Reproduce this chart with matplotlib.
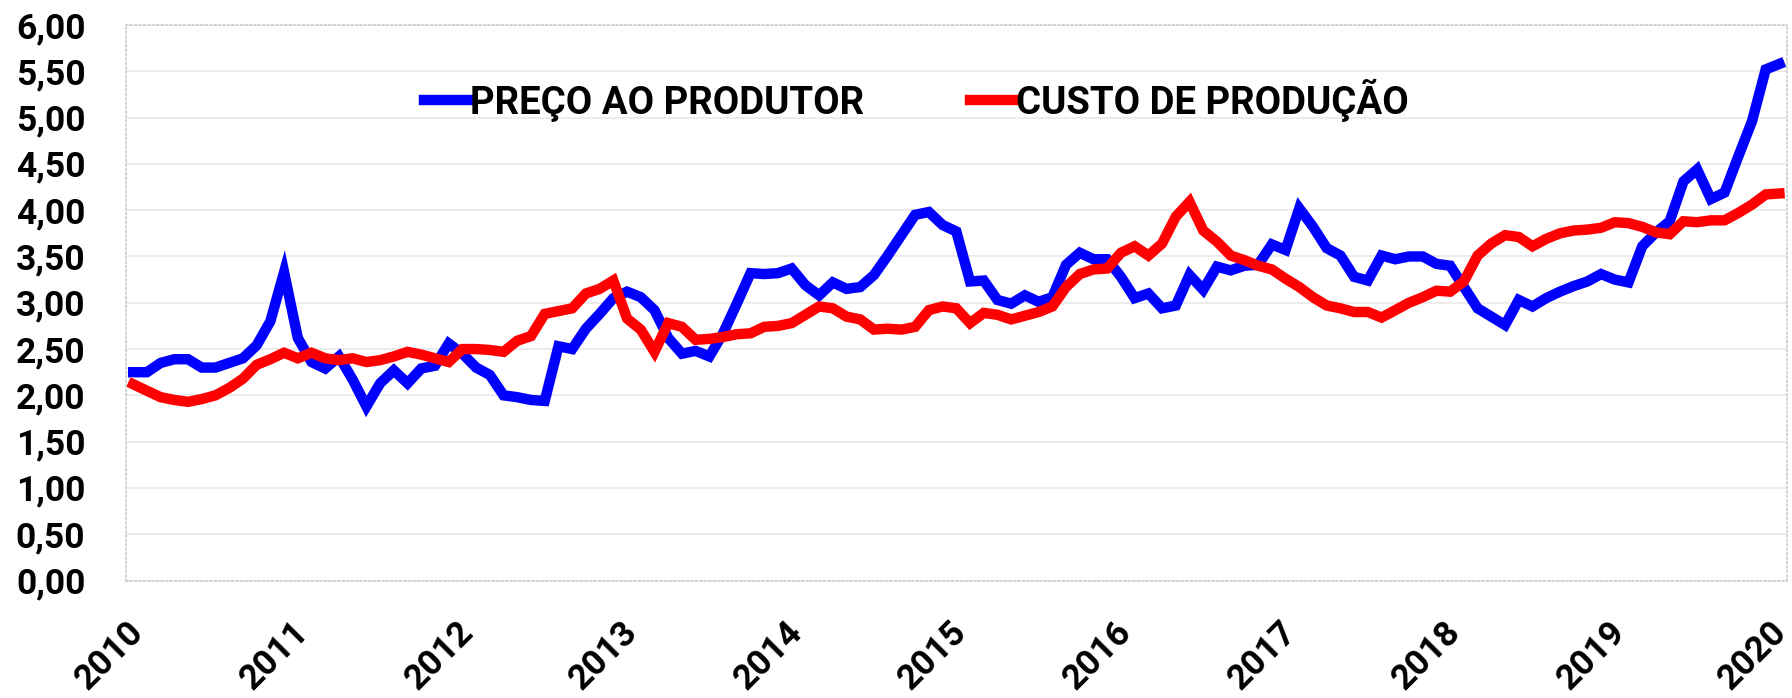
import numpy as np
import matplotlib
matplotlib.use("Agg")
import matplotlib.pyplot as plt
import matplotlib.transforms as mtransforms

plt.rcParams['font.family'] = ['Roboto', 'DejaVu Sans']

# monthly values, jan/2010 .. jan/2020
preco_produtor = [
    2.25, 2.25, 2.35, 2.39, 2.39, 2.30, 2.30, 2.35, 2.40, 2.54, 2.80, 3.33,
    2.62, 2.36, 2.29, 2.42, 2.17, 1.88, 2.13, 2.27, 2.13, 2.29, 2.32, 2.56,
    2.45, 2.30, 2.22, 2.00, 1.98, 1.95, 1.94, 2.53, 2.50, 2.72, 2.88, 3.05,
    3.12, 3.06, 2.92, 2.62, 2.45, 2.48, 2.42, 2.67, 2.99, 3.32, 3.31, 3.32,
    3.37, 3.19, 3.08, 3.22, 3.15, 3.17, 3.30, 3.51, 3.73, 3.95, 3.98, 3.84,
    3.77, 3.23, 3.24, 3.03, 2.99, 3.08, 3.01, 3.06, 3.41, 3.54, 3.47, 3.47,
    3.28, 3.05, 3.10, 2.94, 2.97, 3.30, 3.14, 3.39, 3.35, 3.40, 3.41, 3.63,
    3.57, 4.02, 3.82, 3.59, 3.51, 3.28, 3.24, 3.51, 3.47, 3.50, 3.50, 3.42,
    3.40, 3.17, 2.94, 2.85, 2.76, 3.03, 2.96, 3.05, 3.12, 3.18, 3.23, 3.31,
    3.25, 3.22, 3.61, 3.76, 3.88, 4.31, 4.44, 4.12, 4.19, 4.58, 4.96, 5.52,
    5.58,
]
custo_producao = [
    2.12, 2.05, 1.98, 1.95, 1.93, 1.96, 2.00, 2.08, 2.18, 2.33, 2.39, 2.46,
    2.40, 2.46, 2.40, 2.38, 2.40, 2.36, 2.38, 2.42, 2.47, 2.44, 2.40, 2.36,
    2.50, 2.50, 2.49, 2.47, 2.59, 2.64, 2.88, 2.91, 2.94, 3.10, 3.15, 3.24,
    2.83, 2.71, 2.47, 2.78, 2.74, 2.60, 2.61, 2.63, 2.66, 2.67, 2.74, 2.75,
    2.78, 2.87, 2.96, 2.94, 2.85, 2.82, 2.71, 2.72, 2.71, 2.74, 2.92, 2.96,
    2.94, 2.78, 2.89, 2.87, 2.82, 2.86, 2.90, 2.96, 3.17, 3.31, 3.36, 3.37,
    3.54, 3.61, 3.51, 3.64, 3.93, 4.09, 3.78, 3.66, 3.51, 3.46, 3.40, 3.36,
    3.26, 3.17, 3.06, 2.97, 2.94, 2.90, 2.90, 2.84, 2.92, 3.00, 3.06, 3.13,
    3.12, 3.23, 3.51, 3.64, 3.73, 3.71, 3.61, 3.69, 3.75, 3.78, 3.79, 3.81,
    3.87, 3.86, 3.82, 3.76, 3.74, 3.88, 3.87, 3.89, 3.89, 3.97, 4.06, 4.17,
    4.18,
]
anos = ["2010", "2011", "2012", "2013", "2014", "2015", "2016", "2017",
        "2018", "2019", "2020"]
y_ticks = [0, 0.5, 1, 1.5, 2, 2.5, 3, 3.5, 4, 4.5, 5, 5.5, 6]
y_labels = ["0,00", "0,50", "1,00", "1,50", "2,00", "2,50", "3,00", "3,50",
            "4,00", "4,50", "5,00", "5,50", "6,00"]

meses = np.arange(len(preco_produtor))

fig = plt.figure(figsize=(17.92, 6.98), dpi=100)
ax = fig.add_axes([0.0701, 0.1683, 0.9271, 0.7959])

ax.plot(meses, preco_produtor, color="#0000ff", lw=7.5,
        solid_joinstyle="miter", label="PREÇO AO PRODUTOR")
ax.plot(meses, custo_producao, color="#ff0000", lw=7.5,
        solid_joinstyle="miter", label="CUSTO DE PRODUÇÃO")

ax.set_xlim(-0.55, 120.55)
ax.set_ylim(0, 6)
ax.set_yticks(y_ticks)
ax.set_yticklabels(y_labels, fontsize=25.5, fontweight="bold")
ax.set_xticks(np.arange(0, 121, 12))
ax.set_xticklabels(anos, fontsize=25.5, fontweight="bold", rotation=45,
                   ha="right", va="top", rotation_mode="anchor")
ax.tick_params(axis="y", length=0, pad=29)
ax.tick_params(axis="x", length=0, pad=29)

# nudge year labels up-left a little (last one a bit more so it fits)
xlabels = ax.get_xticklabels()
for k, lbl in enumerate(xlabels):
    dx = -0.10 if k == len(xlabels) - 1 else -0.06
    shift = mtransforms.ScaledTranslation(dx, 0.06, fig.dpi_scale_trans)
    lbl.set_transform(lbl.get_transform() + shift)

ax.grid(axis="y", color="#ececec", lw=1.5)
ax.set_axisbelow(True)
for s in ax.spines.values():
    s.set_color("#cccccc")
    s.set_linestyle(":")
    s.set_linewidth(1.2)

ax.legend(loc="center", bbox_to_anchor=(0.476, 0.865), ncol=2, frameon=False,
          prop={"size": 27.6, "weight": "bold"}, handlelength=1.15,
          handletextpad=0.05, columnspacing=2.75)

fig.savefig("out.png", dpi=100)
